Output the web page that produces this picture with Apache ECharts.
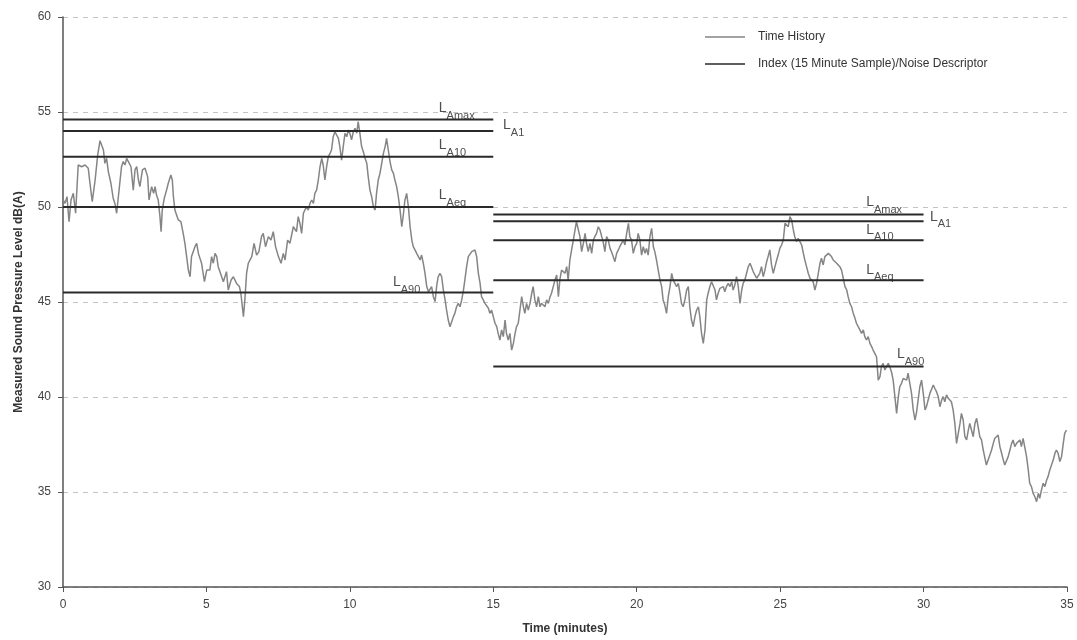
<!DOCTYPE html>
<html><head><meta charset="utf-8">
<script src="https://cdn.jsdelivr.net/npm/echarts@6/dist/echarts.min.js"></script>
<style>html,body{margin:0;padding:0;background:#fff}#c{width:1077px;height:640px}</style>
</head><body><div id="c"></div>
<script>
// Time history [minutes, dB(A)]
const historyPoints = [
[0.01,50.37],[0.07,50.19],[0.14,50.54],[0.21,49.23],[0.28,50.37],[0.36,50.72],[0.44,49.67],[0.53,52.21],[0.65,52.12],[0.77,52.21],
[0.88,52.04],[0.94,51.25],[1.02,50.28],[1.12,51.42],[1.21,52.74],[1.29,53.49],[1.41,53.0],[1.46,52.3],[1.52,52.56],[1.58,51.86],
[1.67,51.25],[1.75,50.46],[1.81,50.19],[1.87,49.67],[1.93,50.54],[2.04,52.12],[2.10,52.39],[2.16,52.21],[2.22,52.56],[2.28,52.47],
[2.37,52.12],[2.45,50.89],[2.51,51.95],[2.57,52.12],[2.63,51.42],[2.68,51.07],[2.77,51.95],[2.86,52.04],[2.95,51.6],[3.00,50.37],
[3.09,51.07],[3.16,50.72],[3.21,51.07],[3.26,50.63],[3.32,50.37],[3.38,49.49],[3.42,48.70],[3.46,49.84],[3.53,50.46],[3.61,50.89],
[3.67,51.25],[3.76,51.68],[3.81,51.42],[3.85,50.54],[3.90,49.84],[4.02,49.32],[4.11,49.23],[4.19,48.61],[4.25,48.09],[4.31,47.39],
[4.37,46.68],[4.43,46.33],[4.48,47.39],[4.60,47.91],[4.66,48.09],[4.72,47.56],[4.83,47.04],[4.93,46.07],[5.01,46.68],[5.12,46.68],
[5.18,47.39],[5.24,47.04],[5.30,47.56],[5.36,47.39],[5.41,46.86],[5.51,46.42],[5.59,46.07],[5.70,46.60],[5.76,45.63],[5.86,46.16],
[5.94,46.33],[6.05,45.98],[6.15,45.81],[6.20,45.46],[6.29,44.23],[6.34,45.11],[6.40,46.51],[6.46,47.04],[6.58,47.39],[6.66,48.09],
[6.75,47.47],[6.83,47.65],[6.92,48.44],[6.98,48.61],[7.06,47.91],[7.16,48.44],[7.25,48.26],[7.33,48.70],[7.41,47.91],[7.51,47.39],
[7.60,47.04],[7.68,47.56],[7.74,47.21],[7.83,48.26],[7.91,48.09],[8.03,48.96],[8.14,48.70],[8.20,49.49],[8.26,49.14],[8.32,48.61],
[8.38,49.67],[8.49,50.02],[8.55,49.84],[8.61,50.19],[8.67,50.37],[8.73,50.19],[8.78,50.72],[8.84,50.89],[8.90,51.42],[8.96,52.12],
[9.02,52.56],[9.07,52.21],[9.13,51.42],[9.19,52.12],[9.25,52.65],[9.31,52.82],[9.36,53.0],[9.42,53.70],[9.48,53.96],[9.54,53.88],
[9.60,53.61],[9.65,53.18],[9.71,52.47],[9.77,53.18],[9.83,53.88],[9.89,53.70],[9.95,54.05],[10.00,53.88],[10.06,53.53],[10.12,53.96],
[10.18,54.14],[10.24,53.88],[10.29,54.49],[10.35,53.88],[10.41,53.18],[10.47,52.91],[10.53,52.56],[10.59,52.30],[10.64,51.60],[10.70,50.89],
[10.76,50.54],[10.82,50.02],[10.88,49.84],[10.93,50.72],[10.99,51.42],[11.05,51.77],[11.11,52.30],[11.17,52.82],[11.23,53.18],[11.28,53.61],
[11.34,53.0],[11.40,52.39],[11.46,51.95],[11.52,51.77],[11.57,51.42],[11.63,51.07],[11.69,50.54],[11.75,49.84],[11.81,48.96],[11.87,49.67],
[11.92,50.37],[11.98,50.72],[12.04,50.02],[12.10,48.96],[12.16,48.26],[12.21,47.91],[12.27,47.74],[12.33,47.56],[12.39,47.39],[12.45,47.21],
[12.50,47.47],[12.56,47.04],[12.62,46.51],[12.68,45.81],[12.74,45.54],[12.79,45.46],[12.85,45.81],[12.91,45.28],[12.97,45.02],[13.03,45.89],
[13.08,46.33],[13.14,46.51],[13.20,46.33],[13.26,45.63],[13.32,45.11],[13.37,44.58],[13.43,44.05],[13.49,43.70],[13.55,43.96],[13.61,44.23],
[13.66,44.40],[13.72,44.75],[13.78,44.93],[13.84,44.75],[13.90,45.11],[13.96,45.63],[14.01,46.16],[14.07,46.86],[14.13,47.39],[14.19,47.47],
[14.25,47.65],[14.30,47.56],[14.36,47.74],[14.42,47.39],[14.48,46.51],[14.54,45.98],[14.59,45.28],[14.65,45.11],[14.71,44.93],[14.77,44.84],
[14.83,44.67],[14.88,44.40],[14.94,44.58],[15.00,44.23],[15.06,43.88],[15.12,43.70],[15.17,43.35],[15.23,43.0],[15.29,43.53],[15.35,43.18],
[15.41,44.05],[15.46,43.35],[15.52,43.0],[15.58,43.35],[15.64,42.47],[15.70,42.82],[15.76,43.35],[15.81,43.70],[15.87,43.88],[15.93,44.58],
[15.99,45.28],[16.05,44.75],[16.10,44.40],[16.16,44.93],[16.22,44.58],[16.28,44.93],[16.34,45.46],[16.39,45.81],[16.45,45.11],[16.51,44.75],
[16.57,45.28],[16.63,44.75],[16.68,44.93],[16.74,44.84],[16.80,44.75],[16.86,45.11],[16.92,44.93],[16.98,45.28],[17.03,45.46],[17.09,45.81],
[17.15,46.16],[17.21,46.42],[17.27,45.28],[17.32,46.16],[17.38,46.68],[17.44,46.77],[17.50,46.51],[17.56,46.86],[17.61,46.16],[17.67,47.21],
[17.73,47.74],[17.79,48.26],[17.85,48.79],[17.90,49.23],[17.96,49.14],[18.02,48.44],[18.08,47.65],[18.14,48.09],[18.20,48.61],[18.25,48.09],
[18.31,47.65],[18.37,48.09],[18.43,47.56],[18.49,48.26],[18.54,48.44],[18.60,48.61],[18.66,48.96],[18.72,48.79],[18.78,48.44],[18.83,48.18],
[18.89,47.65],[18.95,48.44],[19.01,48.26],[19.07,47.82],[19.12,47.65],[19.18,47.39],[19.24,47.12],[19.30,47.56],[19.36,47.74],[19.41,47.91],
[19.47,48.09],[19.53,48.26],[19.59,48.0],[19.65,48.61],[19.71,49.14],[19.76,48.44],[19.82,48.26],[19.88,47.56],[19.94,47.91],[20.00,48.09],
[20.05,48.61],[20.11,48.26],[20.17,47.47],[20.23,47.91],[20.29,47.56],[20.34,47.82],[20.40,47.47],[20.46,48.44],[20.52,48.88],[20.58,47.91],
[20.63,47.65],[20.69,47.21],[20.75,46.68],[20.81,46.16],[20.87,45.81],[20.92,45.11],[20.98,44.84],[21.04,44.40],[21.10,45.28],[21.16,45.81],
[21.22,46.51],[21.27,46.16],[21.33,46.07],[21.39,45.81],[21.45,45.98],[21.51,45.46],[21.56,44.93],[21.62,44.75],[21.68,45.11],[21.74,45.63],
[21.80,45.81],[21.85,44.75],[21.91,44.05],[21.97,43.70],[22.03,44.23],[22.09,44.58],[22.15,44.75],[22.20,44.23],[22.26,43.35],[22.32,42.82],
[22.38,43.53],[22.44,45.11],[22.49,45.46],[22.55,45.81],[22.61,46.07],[22.67,46.16],[22.73,45.63],[22.78,45.11],[22.84,45.46],[22.90,45.72],
[22.96,45.63],[23.02,45.81],[23.07,45.54],[23.13,45.81],[23.19,45.98],[23.25,45.81],[23.31,46.07],[23.36,45.63],[23.42,45.89],[23.48,46.33],
[23.54,45.81],[23.60,44.93],[23.66,45.63],[23.71,45.98],[23.77,46.16],[23.83,46.51],[23.89,46.86],[23.95,47.04],[24.00,47.12],[24.06,46.60],
[24.12,46.51],[24.18,46.25],[24.24,46.33],[24.29,46.51],[24.35,46.86],[24.41,46.33],[24.47,46.68],[24.53,47.12],[24.58,47.39],[24.64,47.74],
[24.70,46.95],[24.76,46.51],[24.82,46.86],[24.88,47.21],[24.93,47.47],[24.99,47.82],[25.05,48.0],[25.11,48.26],[25.17,49.14],[25.22,49.23],
[25.28,48.96],[25.34,49.49],[25.40,49.32],[25.46,48.79],[25.51,48.44],[25.57,48.18],[25.63,48.35],[25.69,48.26],[25.75,48.0],[25.81,47.56],
[25.86,47.21],[25.92,46.86],[25.98,46.51],[26.04,46.25],[26.10,46.16],[26.15,46.07],[26.21,45.63],[26.27,45.98],[26.33,46.51],[26.39,47.04],
[26.44,47.30],[26.50,46.95],[26.56,47.39],[26.62,47.30],[26.68,47.56],[26.73,47.65],[26.79,47.39],[26.85,47.21],[26.91,47.12],[26.97,47.04],
[27.03,46.95],[27.08,46.86],[27.14,46.68],[27.20,46.25],[27.26,45.81],[27.32,45.63],[27.37,45.28],[27.43,44.93],[27.49,44.75],[27.55,44.40],
[27.61,44.14],[27.66,43.88],[27.72,43.70],[27.78,43.53],[27.84,43.35],[27.90,43.53],[27.95,43.18],[28.01,43.0],[28.07,43.18],[28.13,42.82],
[28.19,42.65],[28.24,42.47],[28.30,42.30],[28.36,42.12],[28.42,40.89],[28.48,41.07],[28.53,41.60],[28.59,41.77],[28.65,41.42],[28.71,41.60],
[28.77,41.77],[28.82,41.60],[28.88,41.33],[28.94,40.89],[29.00,40.02],[29.06,39.14],[29.12,40.02],[29.17,40.54],[29.23,40.72],[29.29,40.98],
[29.35,41.07],[29.41,40.89],[29.46,41.25],[29.52,40.72],[29.58,40.19],[29.64,39.32],[29.70,38.79],[29.75,39.14],[29.81,39.84],[29.87,40.54],
[29.93,40.89],[29.99,40.19],[30.05,39.32],[30.10,39.49],[30.16,39.84],[30.22,40.19],[30.28,40.28],[30.34,40.63],[30.39,40.46],[30.45,40.28],
[30.51,40.02],[30.57,39.49],[30.63,39.84],[30.68,40.02],[30.74,39.75],[30.80,40.11],[30.86,39.93],[30.92,40.02],[30.97,39.75],[31.03,39.32],
[31.09,38.61],[31.15,37.56],[31.21,38.09],[31.27,38.61],[31.32,39.14],[31.38,38.79],[31.44,37.91],[31.50,37.74],[31.56,38.26],[31.61,38.61],
[31.67,38.26],[31.73,37.91],[31.79,38.61],[31.85,38.88],[31.90,38.44],[31.96,37.91],[32.02,37.74],[32.08,37.21],[32.14,36.77],[32.19,36.42],
[32.25,36.68],[32.31,36.95],[32.37,37.21],[32.43,37.56],[32.48,37.82],[32.54,37.74],[32.60,38.0],[32.66,37.39],[32.72,37.04],[32.78,36.68],
[32.83,36.42],[32.89,36.33],[32.95,36.86],[33.01,37.21],[33.07,37.56],[33.12,37.74],[33.18,37.39],[33.24,37.56],[33.30,37.47],[33.36,37.74],
[33.41,37.39],[33.47,37.82],[33.53,37.74],[33.59,36.86],[33.65,36.16],[33.70,35.46],[33.76,35.28],[33.82,34.93],[33.88,34.75],[33.94,34.49],
[34.00,34.93],[34.05,34.67],[34.11,35.11],[34.17,35.46],[34.23,35.28],[34.29,35.63],[34.34,35.81],[34.40,36.16],[34.46,36.42],[34.52,36.68],
[34.58,37.04],[34.63,37.21],[34.69,37.04],[34.75,36.60],[34.81,36.86],[34.87,37.56],[34.92,38.09],[34.98,38.26]
];

// 15-minute sample periods [start, end] (minutes)
const samplePeriods = [[0, 15], [15, 30]];
// Index names (subscripts)
const indexNames = ['Amax', 'A1', 'A10', 'Aeq', 'A90'];
// Index values per period, dB(A)
const indexPeriod1 = [54.6, 54.0, 52.65, 50.0, 45.5];
const indexPeriod2 = [49.6, 49.25, 48.25, 46.15, 41.6];
const indexValues = [indexPeriod1, indexPeriod2];

// Axis ticks
const xTicks = [0, 5, 10, 15, 20, 25, 30, 35];
const yTicks = [30, 35, 40, 45, 50, 55, 60];

// Annotation layout (label anchor x in minutes, pixel y offset)
const labelX = [[13.1, 15.34, 13.1, 13.1, 11.5], [28.0, 30.22, 28.0, 28.0, 29.07]];
const labelDy = [[-10, -4, -10, -10, -9], [-11, -3, -9, -9, -11]];

const HIST = 'Time History';
const IDX = 'Index (15 Minute Sample)/Noise Descriptor';
const FONT = '"Liberation Sans", Arial, sans-serif';

const series = [{
  name: HIST, type: 'line', data: historyPoints, showSymbol: false, symbol: 'none',
  lineStyle: {color: '#858585', width: 1.5}, itemStyle: {color: '#858585'}, z: 2, animation: false
}];
samplePeriods.forEach((p, pi) => {
  indexValues[pi].forEach((v, ii) => {
    series.push({
      name: IDX, type: 'line', data: [[p[0], v], [p[1], v]], showSymbol: false, symbol: 'none',
      lineStyle: {color: '#2a2a2a', width: 2}, itemStyle: {color: '#2a2a2a'}, z: 3, animation: false
    });
  });
});
const labelData = [];
samplePeriods.forEach((p, pi) => {
  indexValues[pi].forEach((v, ii) => {
    labelData.push({
      value: [labelX[pi][ii], v],
      label: {
        show: true, position: 'right', distance: 0, offset: [0, labelDy[pi][ii]],
        formatter: '{l|L}{s|' + indexNames[ii] + '}',
        rich: {
          l: {fontSize: 14, color: '#222', fontFamily: FONT, lineHeight: 17, verticalAlign: 'top'},
          s: {fontSize: 11, color: '#222', fontFamily: FONT, lineHeight: 17, padding: [9, 0, 0, 0], verticalAlign: 'top'}
        }
      }
    });
  });
});
series.push({
  name: 'labels', type: 'scatter', data: labelData, symbolSize: 0, silent: true, z: 5,
  itemStyle: {color: 'transparent'}, animation: false
});

const chart = echarts.init(document.getElementById('c'), null, {renderer: 'canvas'});
chart.setOption({
  backgroundColor: '#fff',
  animation: false,
  textStyle: {fontFamily: FONT},
  grid: {left: 63, right: 10, top: 17, bottom: 53, containLabel: false},
  legend: {
    data: [{name: HIST, icon: 'rect'}, {name: IDX, icon: 'rect'}],
    orient: 'vertical', left: 700, top: 26, itemWidth: 40, itemHeight: 1.5, itemGap: 15,
    textStyle: {fontSize: 12, color: '#333', fontFamily: FONT, padding: [0, 0, 0, 8]},
    selectedMode: false
  },
  xAxis: {
    type: 'value', min: xTicks[0], max: xTicks[xTicks.length - 1], interval: 5,
    name: 'Time (minutes)', nameLocation: 'middle', nameGap: 36,
    nameTextStyle: {fontSize: 12, fontWeight: 'bold', color: '#333', fontFamily: FONT},
    axisLine: {show: true, lineStyle: {color: '#555', width: 1.5}},
    axisTick: {show: true, length: 5, lineStyle: {color: '#555'}},
    axisLabel: {fontSize: 12, color: '#444', margin: 12, fontFamily: FONT},
    splitLine: {show: false}
  },
  yAxis: {
    type: 'value', min: yTicks[0], max: yTicks[yTicks.length - 1], interval: 5,
    name: 'Measured Sound Pressure Level dB(A)', nameLocation: 'middle', nameGap: 38,
    nameTextStyle: {fontSize: 12, fontWeight: 'bold', color: '#333', fontFamily: FONT},
    axisLine: {show: true, lineStyle: {color: '#555', width: 1.5}},
    axisTick: {show: true, length: 5, lineStyle: {color: '#555'}},
    axisLabel: {fontSize: 12, color: '#444', margin: 12, fontFamily: FONT},
    splitLine: {show: true, lineStyle: {color: '#c4c4c4', type: [5, 5], width: 1}}
  },
  series: series
});
</script></body></html>
